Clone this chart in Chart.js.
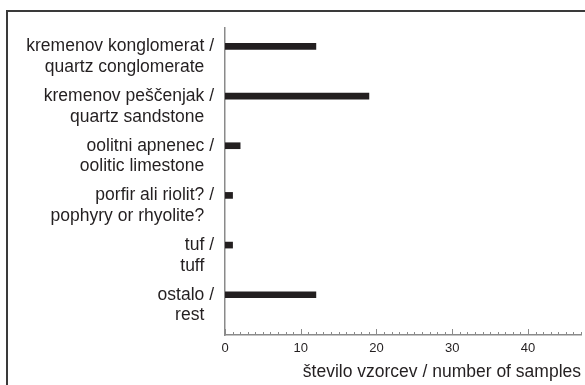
<!DOCTYPE html>
<html>
<head>
<meta charset="utf-8">
<script src="https://cdn.jsdelivr.net/npm/chart.js@4"></script>
<style>
  body { margin: 0; background: #fff; }
  #wrap { position: relative; width: 585px; height: 385px; overflow: hidden; }
  #frame { position: absolute; left: 6px; top: 10px; width: 700px; height: 500px; border: 2px solid #3a3a3a; }
  #grafico1 { position: absolute; left: 0; top: 0; }
</style>
</head>
<body>
<div id="wrap">
  <div id="frame"></div>
  <canvas id="grafico1" width="585" height="385"></canvas>
</div>
<script>
const kategorije = ['kremenov konglomerat /', 'kremenov peščenjak /', 'oolitni apnenec /', 'porfir ali riolit? /', 'tuf /', 'ostalo /']
const categories = ['quartz conglomerate', 'quartz sandstone', 'oolitic limestone', 'pophyry or rhyolite?', 'tuff', 'rest']
const vzorci = [12, 19, 2, 1, 1, 12]
const xTicks = [0, 10, 20, 30, 40]

const crna = '#231f20'
const siva = '#8a8a8a'

// small tick marks on the x axis, pointing up into the plot
const crtice = {
  id: 'crtice',
  afterDraw(chart) {
    const x = chart.scales.x
    const c = chart.ctx
    const y0 = chart.chartArea.bottom
    c.save()
    c.strokeStyle = siva
    c.lineWidth = 1
    for (let v = 0; v <= x.max; v++) {
      const px = Math.round(x.getPixelForValue(v)) + 0.5
      const len = v % 10 === 0 ? 6 : 3
      c.beginPath()
      c.moveTo(px, y0)
      c.lineTo(px, y0 - len)
      c.stroke()
    }
    c.restore()
  }
}

const ctx = document.getElementById('grafico1')

const grafico = new Chart(ctx, {
  type: 'bar',
  data: {
    datasets: [{
      data: vzorci.map((v, i) => ({ x: v, y: i })),
      backgroundColor: crna,
      barThickness: 6
    }]
  },
  plugins: [crtice],
  options: {
    indexAxis: 'y',
    responsive: false,
    animation: false,
    layout: { padding: { top: 28, right: 4, left: 0, bottom: 0 } },
    plugins: { legend: { display: false }, tooltip: { enabled: false } },
    scales: {
      y: {
        type: 'linear',
        reverse: true,
        offset: false,
        min: -0.37,
        max: 5.81,
        afterFit: s => { s.width = 225; s.paddingTop = 0; s.paddingBottom = 0 },
        afterBuildTicks: s => { s.ticks = kategorije.map((k, i) => ({ value: i })) },
        grid: { display: false, drawTicks: false, offset: false },
        border: { display: true, color: siva, width: 1.5 },
        ticks: {
          autoSkip: false,
          padding: 11,
          color: crna,
          font: { family: 'Liberation Sans, Arial, sans-serif', size: 17.5, lineHeight: 1.18 },
          callback: v => ['', kategorije[v], categories[v] + '\u00a0\u00a0']
        }
      },
      x: {
        type: 'linear',
        min: 0,
        max: 47,
        afterFit: s => { s.height = 50 },
        afterBuildTicks: s => { s.ticks = xTicks.map(v => ({ value: v })) },
        grid: { display: false, drawTicks: false },
        border: { display: true, color: siva, width: 1.5 },
        ticks: {
          autoSkip: false,
          padding: 6,
          color: crna,
          maxRotation: 0,
          font: { family: 'Liberation Sans, Arial, sans-serif', size: 13 }
        },
        title: {
          display: true,
          text: 'število vzorcev / number of samples',
          align: 'end',
          color: crna,
          padding: { top: 0, bottom: 2 },
          font: { family: 'Liberation Sans, Arial, sans-serif', size: 17.5, lineHeight: 1.2 }
        }
      }
    }
  }
})
</script>
</body>
</html>
